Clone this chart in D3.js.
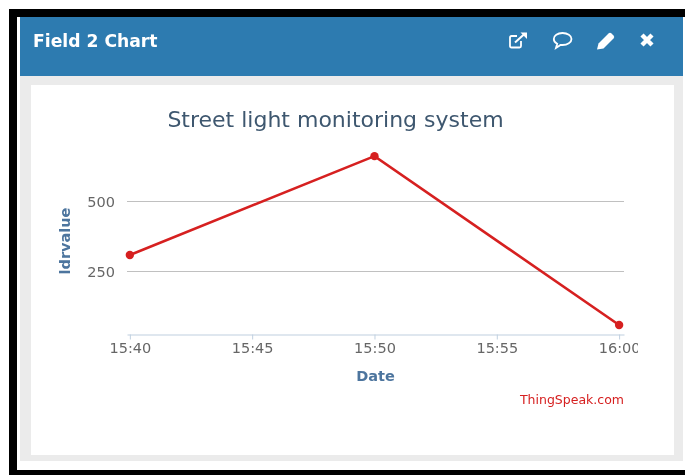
<!DOCTYPE html>
<html>
<head>
<meta charset="utf-8">
<script src="https://d3js.org/d3.v7.min.js"></script>
<style>
  html, body { margin: 0; padding: 0; background: #fff; }
  svg { display: block; filter: blur(0.4px); }
  text { font-family: "DejaVu Sans", sans-serif; }
</style>
</head>
<body>
<svg id="chart" width="685" height="475"></svg>
<script>
const times = ['15:40', '15:50', '16:00'];
const values = [309, 662, 59];
const xTicks = ['15:40', '15:45', '15:50', '15:55', '16:00'];
const yTicks = [250, 500];

const parseTime = d3.utcParse('%H:%M:%S');
const at = s => parseTime(s + ':00');

const svg = d3.select('#chart');

// ── FRAME ─────────────────────────────────────────────
svg.append('rect').attr('x', 9).attr('y', 9).attr('width', 676).attr('height', 466).attr('fill', '#000');
svg.append('rect').attr('x', 17).attr('y', 17).attr('width', 668).attr('height', 453).attr('fill', '#fff');
svg.append('rect').attr('x', 20).attr('y', 76).attr('width', 663).attr('height', 385).attr('fill', '#ebebeb');
svg.append('rect').attr('x', 20).attr('y', 17).attr('width', 663).attr('height', 59).attr('fill', '#2d7bb0');
svg.append('rect').attr('x', 31).attr('y', 85).attr('width', 643).attr('height', 370).attr('fill', '#fff');

svg.append('text').attr('x', 33).attr('y', 47)
  .attr('font-size', 17.2).attr('font-weight', 'bold').attr('fill', '#fff')
  .text('Field 2 Chart');

// ── HEADER ICONS ──────────────────────────────────────
const icons = svg.append('g');
// open in new window
const ext = icons.append('g').attr('transform', 'translate(509,32)')
  .attr('fill', 'none').attr('stroke', '#fff').attr('stroke-width', 1.8);
ext.append('path').attr('d', 'M12,9 V14 Q12,15.5 10.5,15.5 H2.5 Q1,15.5 1,14 V5.5 Q1,4 2.5,4 H8');
ext.append('path').attr('d', 'M6,10.5 L16,1.5').attr('stroke-width', 2);
ext.append('path').attr('d', 'M11.5,0.5 H18 V7 Z').attr('fill', '#fff').attr('stroke', 'none');
// comment
icons.append('path').attr('transform', 'translate(553,32)')
  .attr('fill', 'none').attr('stroke', '#fff').attr('stroke-width', 1.8)
  .attr('d', 'M9.5,1 C14.5,1 18.5,3.6 18.5,7 C18.5,10.4 14.5,13 9.5,13 L7.5,13 L3,16 L4.2,11.8 C2,10.8 0.8,9 0.8,7 C0.8,3.6 4.5,1 9.5,1 Z');
// pencil
icons.append('path').attr('transform', 'translate(597,32)').attr('fill', '#fff')
  .attr('d', 'M0,17.5 L1.5,11.5 L11.5,1.5 Q13,0 14.5,1.5 L16.5,3.5 Q18,5 16.5,6.5 L6.5,16.5 Z');
// close
icons.append('path').attr('transform', 'translate(647,40)')
  .attr('stroke', '#fff').attr('stroke-width', 4.4).attr('fill', 'none')
  .attr('d', 'M-5,-5 L5,5 M5,-5 L-5,5');

// ── CHART ─────────────────────────────────────────────
const x = d3.scaleUtc()
  .domain([parseTime('15:39:53'), parseTime('16:00:12')])
  .range([127, 624]);
const y = d3.scaleLinear().domain([25, 750]).range([334.5, 131.5]);

// clip box is in the x axis group's own coordinates, last label gets cut at 638
svg.append('defs').append('clipPath').attr('id', 'tick-clip')
  .append('rect').attr('x', 100).attr('y', -5).attr('width', 538).attr('height', 40);

// grid
svg.append('g').selectAll('line').data(yTicks).join('line')
  .attr('x1', 127).attr('x2', 624)
  .attr('y1', d => y(d)).attr('y2', d => y(d))
  .attr('stroke', '#c0c0c0').attr('stroke-width', 1.2);

// axes
const xAxis = svg.append('g')
  .attr('transform', 'translate(0,334.5)')
  .attr('clip-path', 'url(#tick-clip)')
  .call(d3.axisBottom(x).tickValues(xTicks.map(at)).tickFormat(d3.utcFormat('%H:%M')).tickSize(5).tickPadding(3).tickSizeOuter(0));
xAxis.select('.domain').attr('stroke', '#c0d0e0').attr('stroke-width', 1.2);
xAxis.selectAll('.tick line').attr('stroke', '#c0d0e0');
xAxis.selectAll('text').attr('font-size', 14.5).attr('fill', '#666').attr('font-family', '"DejaVu Sans", sans-serif');

const yAxis = svg.append('g')
  .attr('transform', 'translate(115,0)')
  .call(d3.axisLeft(y).tickValues(yTicks).tickSize(0).tickPadding(0));
yAxis.select('.domain').remove();
yAxis.selectAll('text').attr('font-size', 14.5).attr('fill', '#666').attr('font-family', '"DejaVu Sans", sans-serif');

// series
const pts = times.map((t, i) => [at(t), values[i]]);
svg.append('path').datum(pts)
  .attr('fill', 'none').attr('stroke', '#d62020').attr('stroke-width', 2.6)
  .attr('d', d3.line().x(d => x(d[0])).y(d => y(d[1])));
svg.append('g').selectAll('circle').data(pts).join('circle')
  .attr('cx', d => x(d[0])).attr('cy', d => y(d[1])).attr('r', 4.2)
  .attr('fill', '#d62020');

// titles
svg.append('text').attr('x', 335.5).attr('y', 127).attr('text-anchor', 'middle')
  .attr('font-size', 22).attr('fill', '#3e576f')
  .text('Street light monitoring system');
svg.append('text').attr('x', 375.5).attr('y', 381).attr('text-anchor', 'middle')
  .attr('font-size', 14.5).attr('font-weight', 'bold').attr('fill', '#4d759e')
  .text('Date');
svg.append('text').attr('transform', 'translate(70,241) rotate(-90)').attr('text-anchor', 'middle')
  .attr('font-size', 14.5).attr('font-weight', 'bold').attr('fill', '#4d759e')
  .text('ldrvalue');
svg.append('text').attr('x', 624).attr('y', 404).attr('text-anchor', 'end')
  .attr('font-size', 12.5).attr('fill', '#d62020')
  .text('ThingSpeak.com');
</script>
</body>
</html>
